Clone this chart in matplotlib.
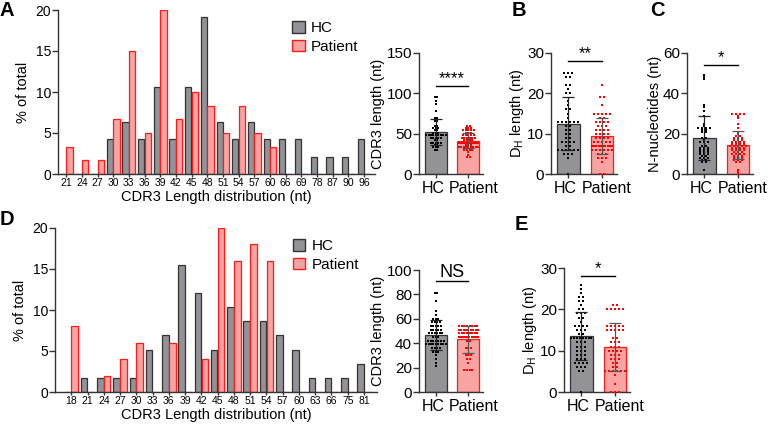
import matplotlib.pyplot as plt
import numpy as np
from matplotlib.patches import Patch
from matplotlib.transforms import ScaledTranslation

plt.rcParams['font.family'] = ['Liberation Sans', 'DejaVu Sans']
plt.rcParams['mathtext.fontset'] = 'custom'
plt.rcParams['mathtext.rm'] = 'Liberation Sans'

# A: CDR3 length distribution, clone counts per length
a_len = [21, 24, 27, 30, 33, 36, 39, 42, 45, 48, 51, 54, 57, 60, 66, 69, 78, 87, 90, 96]
a_hc = [0, 0, 0, 2, 3, 2, 5, 2, 5, 9, 3, 2, 3, 2, 2, 2, 1, 1, 1, 2]
a_pt = [2, 1, 1, 4, 9, 3, 12, 4, 6, 5, 3, 5, 3, 2, 0, 0, 0, 0, 0, 0]

# D: CDR3 length distribution, clone counts per length
d_len = [18, 21, 24, 27, 30, 33, 36, 39, 42, 45, 48, 51, 54, 57, 60, 63, 66, 75, 81]
d_hc = [0, 1, 1, 1, 1, 3, 4, 9, 7, 3, 6, 5, 5, 4, 3, 1, 1, 1, 2]
d_pt = [4, 0, 1, 2, 3, 0, 3, 0, 2, 10, 8, 9, 8, 0, 0, 0, 0, 0, 0]

# B: DH length (value, count)
b_hc_val = [25, 24, 22, 21, 20, 18, 17, 16, 15, 14, 13, 12, 11, 10, 9, 8, 7, 6, 5, 4, 0]
b_hc_n = [3, 2, 2, 1, 2, 1, 1, 2, 1, 1, 6, 2, 2, 2, 2, 4, 2, 6, 3, 1, 1]
b_pt_val = [22, 19, 17, 15, 14, 13, 12, 11, 10, 9, 8, 7, 6, 5, 4, 3, 0]
b_pt_n = [1, 2, 1, 5, 2, 4, 3, 4, 4, 4, 5, 10, 6, 3, 3, 1, 2]

# C: N-nucleotides (value, count)
c_hc_val = [49, 48, 47, 34, 33, 31, 29, 25, 24, 23, 22, 21, 18, 17, 16, 14, 13, 12, 11, 10, 9, 8, 7, 6, 2]
c_hc_n = [1, 1, 1, 1, 1, 1, 1, 1, 1, 4, 2, 2, 2, 1, 3, 2, 3, 3, 3, 3, 2, 3, 2, 2, 1]
c_pt_val = [30, 29, 28, 25, 23, 21, 20, 19, 18, 17, 16, 15, 14, 13, 12, 11, 10, 9, 8, 7, 6, 2, 1, 0]
c_pt_n = [4, 1, 1, 1, 1, 1, 1, 2, 3, 3, 4, 4, 5, 4, 4, 3, 4, 3, 3, 3, 2, 1, 1, 1]

# E: DH length (value, count)
e_hc_val = [26, 25, 24, 23, 22, 21, 20, 19, 18, 17, 16, 15, 14, 13, 12, 11, 10, 9, 8, 7, 6, 5, 0]
e_hc_n = [1, 1, 1, 2, 2, 1, 2, 3, 2, 1, 4, 3, 2, 8, 3, 3, 3, 3, 3, 4, 3, 2, 1]
e_pt_val = [21, 20, 16, 15, 13, 12, 11, 10, 9, 8, 7, 6, 5, 4, 2, 0]
e_pt_n = [2, 5, 5, 5, 2, 3, 3, 4, 3, 3, 2, 2, 6, 1, 1, 3]

groups = ["HC", "Patient"]

HC_FILL, HC_EDGE = "#929297", "#333333"
PT_FILL, PT_EDGE = "#f9a3a3", "#ff1a1a"
W, H = 769, 428
fig = plt.figure(figsize=(W / 100, H / 100), dpi=100)


def px_axes(l, t, r, b):
    return fig.add_axes([l / W, 1 - b / H, (r - l) / W, (b - t) / H])


def style(ax, tsize):
    for s in ["top", "right"]:
        ax.spines[s].set_visible(False)
    for s in ["left", "bottom"]:
        ax.spines[s].set_linewidth(1.0)
        ax.spines[s].set_color("#333333")
    ax.tick_params(length=4, width=1.0, color="#333333", labelsize=tsize, pad=1)


def histogram(ax, lengths, hc, pt, xlim):
    hc = np.array(hc, float)
    pt = np.array(pt, float)
    x = np.arange(len(lengths))
    ax.bar(x - 0.21, hc / hc.sum() * 100, 0.40, color=HC_FILL, edgecolor=HC_EDGE, lw=0.9)
    ax.bar(x + 0.21, pt / pt.sum() * 100, 0.40, color=PT_FILL, edgecolor=PT_EDGE, lw=0.9)
    ax.set_xlim(*xlim)
    ax.set_ylim(0, 20)
    ax.set_yticks([0, 5, 10, 15, 20])
    ax.set_xticks(x)
    ax.set_xticklabels([str(v) for v in lengths])
    style(ax, 10)
    ax.tick_params(axis="x", length=2, labelsize=7.5)
    ax.set_ylabel("% of total", fontsize=10.5, labelpad=4)
    ax.set_xlabel("CDR3 Length distribution (nt)", fontsize=10.5, labelpad=1)
    ax.legend(handles=[Patch(facecolor=HC_FILL, edgecolor=HC_EDGE, label="HC"),
                       Patch(facecolor=PT_FILL, edgecolor=PT_EDGE, label="Patient")],
              loc="upper left", bbox_to_anchor=(0.72, 0.97), frameon=False,
              fontsize=11, handlelength=0.8, handleheight=0.8, handletextpad=0.4,
              labelspacing=0.3, borderaxespad=0)


def swarm(ax, xc, vals, counts, color, base):
    for v, n in zip(vals, counts):
        dx = min(base, 0.6 / max(n - 1, 1))
        offs = (np.arange(n) - (n - 1) / 2) * dx
        ax.scatter(xc + offs, np.full(n, v), s=3, marker="s", color=color, lw=0, zorder=3)


def dotbar(ax, hc_v, hc_n, pt_v, pt_n, ymax, yticks, ylabel, sig, sig_y, sig_size, base):
    sets = [np.repeat(hc_v, hc_n), np.repeat(pt_v, pt_n)]
    means = [s.mean() for s in sets]
    sds = [s.std(ddof=1) for s in sets]
    ax.bar([0, 1], means, 0.67, color=[HC_FILL, PT_FILL], edgecolor=[HC_EDGE, PT_EDGE], lw=0.9, zorder=1)
    swarm(ax, 0, hc_v, hc_n, "black", base)
    swarm(ax, 1, pt_v, pt_n, "#ff0000", base)
    for i in range(2):
        ax.errorbar(i, means[i], yerr=sds[i], color="#222222" if i == 0 else "#555555",
                    capsize=4, lw=0.9, capthick=0.9, zorder=4)
    ax.set_xlim(-0.52, 1.45)
    ax.set_ylim(0, ymax)
    ax.set_yticks(yticks)
    ax.set_xticks([0, 1])
    style(ax, 11)
    ax.tick_params(axis="x", length=3, pad=2)
    ax.set_xticklabels(groups, fontsize=11.5)
    fig.canvas.draw()
    for lab, dx in zip(ax.get_xticklabels(), [-3, 5]):
        lab.set_transform(lab.get_transform() + ScaledTranslation(dx / 100, 0, fig.dpi_scale_trans))
    ax.set_ylabel(ylabel, fontsize=10.5, labelpad=1)
    ax.plot([0, 1], [sig_y, sig_y], color="black", lw=1.0, clip_on=False)
    ax.text(0.5, sig_y, sig, ha="center", va="bottom", fontsize=sig_size, clip_on=False)


# Panel A
ax = px_axes(58, 10, 375, 174)
histogram(ax, a_len, a_hc, a_pt, (-0.52, 19.7))
ax = px_axes(419, 53, 483, 174)
dotbar(ax, a_len, a_hc, a_len, a_pt, 150, [0, 50, 100, 150], "CDR3 length (nt)", "****", 109, 12, 0.08)

# Panel B
ax = px_axes(551, 53, 617, 174)
dotbar(ax, b_hc_val, b_hc_n, b_pt_val, b_pt_n, 30, [0, 10, 20, 30], r"D$_\mathrm{H}$ length (nt)", "**", 28, 12, 0.12)

# Panel C
ax = px_axes(687, 53, 753, 174)
dotbar(ax, c_hc_val, c_hc_n, c_pt_val, c_pt_n, 60, [0, 20, 40, 60], "N-nucleotides (nt)", "*", 54, 12, 0.12)

# Panel D
ax = px_axes(55, 228, 377, 392)
histogram(ax, d_len, d_hc, d_pt, (-1.0, 18.8))
ax = px_axes(419, 270, 483, 392)
dotbar(ax, d_len, d_hc, d_len, d_pt, 100, [0, 20, 40, 60, 80, 100], "CDR3 length (nt)", "NS", 91, 13, 0.08)

# Panel E
ax = px_axes(564, 268, 630, 392)
dotbar(ax, e_hc_val, e_hc_n, e_pt_val, e_pt_n, 30, [0, 10, 20, 30], r"D$_\mathrm{H}$ length (nt)", "*", 28, 12, 0.12)

for lab, x, y in [("A", 0, 10), ("B", 512, 10), ("C", 650, 10), ("D", 0, 220), ("E", 515, 225)]:
    fig.text(x / W, 1 - y / H, lab, fontsize=14.5, fontweight="bold", va="center", ha="left")

fig.savefig("out.png", dpi=100)
